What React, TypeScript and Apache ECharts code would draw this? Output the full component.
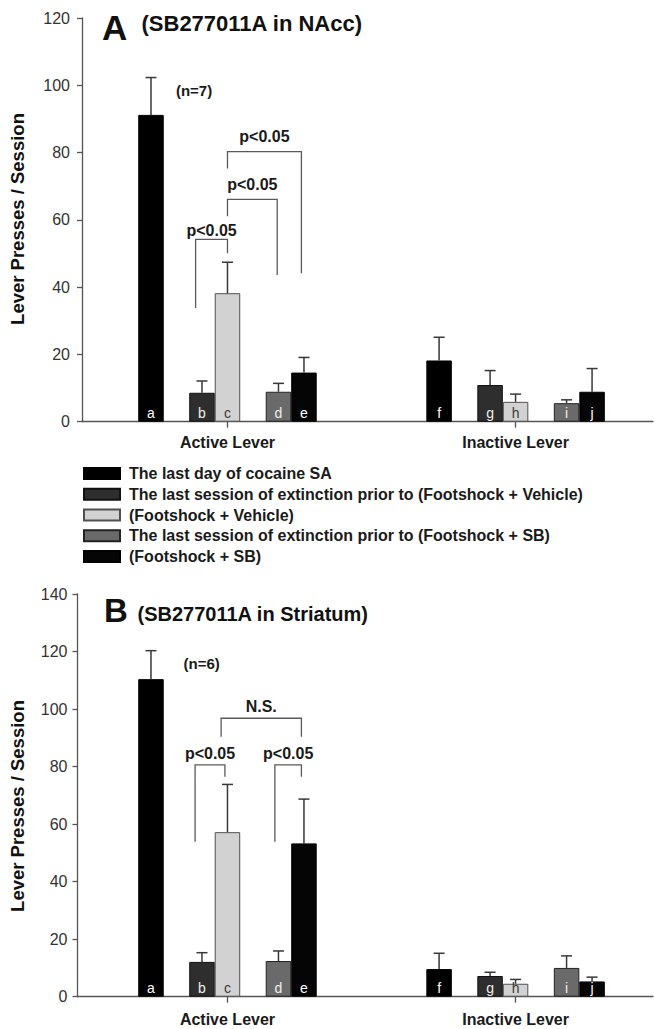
import React, { useEffect, useRef } from "react";
import * as echarts from "echarts";

const FONT = '"Liberation Sans", Arial, Helvetica, sans-serif';

// ---------- data ----------
const GROUPS = ["Active Lever", "Inactive Lever"];
const SERIES_NAMES = [
  "The last day of cocaine SA",
  "The last session of extinction prior to (Footshock + Vehicle)",
  "(Footshock + Vehicle)",
  "The last session of extinction prior to (Footshock + SB)",
  "(Footshock + SB)",
];
// letters printed inside bars: [active, inactive] per series
const BAR_LETTERS = [
  ["a", "f"],
  ["b", "g"],
  ["c", "h"],
  ["d", "i"],
  ["e", "j"],
];

// Panel A (SB277011A in NAcc): mean and SEM, [active, inactive] per series
const A_MEAN = [
  [91.2, 18.2],
  [8.6, 10.9],
  [38.2, 5.9],
  [8.9, 5.5],
  [14.6, 8.9],
];
const A_SEM = [
  [11.1, 6.9],
  [3.5, 4.3],
  [9.2, 2.3],
  [2.5, 1.0],
  [4.5, 6.9],
];

// Panel B (SB277011A in Striatum)
const B_MEAN = [
  [110.4, 9.6],
  [12.1, 7.2],
  [57.2, 4.5],
  [12.4, 10.0],
  [53.3, 5.3],
];
const B_SEM = [
  [9.9, 5.5],
  [3.2, 1.3],
  [16.6, 1.5],
  [3.5, 4.2],
  [15.4, 1.5],
];

// significance brackets (x in bar slots, y in data units)
const A_BRACKETS = [
  { x1: 1.75, x2: 3.0, y1: 33.8, y2: 50.1, top: 54.2, labelY: 56.9, text: "p<0.05" },
  { x1: 3.0, x2: 4.95, y1: 61.1, y2: 43.6, top: 66.1, labelY: 70.4, text: "p<0.05" },
  { x1: 3.0, x2: 5.9, y1: 75.3, y2: 44.1, top: 80.3, labelY: 84.7, text: "p<0.05" },
];
const B_BRACKETS = [
  { x1: 1.73, x2: 2.9, y1: 53.9, y2: 76.5, top: 80.6, labelY: 84.6, text: "p<0.05" },
  { x1: 4.86, x2: 5.9, y1: 53.9, y2: 76.5, top: 80.6, labelY: 84.6, text: "p<0.05" },
  { x1: 2.75, x2: 5.9, y1: 90.4, y2: 90.4, top: 96.8, labelY: 100.8, text: "N.S." },
];
const A_NOTES = [{ x: 1.69, y: 98.4, text: "(n=7)" }];
const B_NOTES = [{ x: 1.99, y: 115.9, text: "(n=6)" }];

const A_Y_MAX = 120;
const B_Y_MAX = 140;
const Y_STEP = 20;

// ---------- layout / style ----------
const GROUP_START = [0, 11.3];
const BAR_SLOT = [0, 2, 3, 5, 6];
const CENTER_SLOT = 3;
const X_MAX = 19.69;
const A_X_MIN = -2.706;
const B_X_MIN = -2.882;

const BAR_COLORS = ["#000000", "#2e2e2e", "#d2d2d2", "#6a6a6a", "#050505"];
const BAR_BORDERS = ["#000000", "#111111", "#505050", "#222222", "#000000"];
const LETTER_COLORS = ["#ffffff", "#eeeeee", "#3a3a3a", "#eeeeee", "#ffffff"];
const AXIS_COLOR = "#555555";
const TEXT_DARK = "#1a1a1a";

const centers = GROUP_START.map((g) => g + CENTER_SLOT);

function buildPanel(p: number, mean: number[][], sem: number[][], brackets: any[], notes: any[]) {
  const series: any[] = [];
  SERIES_NAMES.forEach((name, s) => {
    series.push({
      type: "bar",
      name,
      xAxisIndex: p,
      yAxisIndex: p,
      barWidth: 25.5,
      barGap: "-100%",
      itemStyle: { color: BAR_COLORS[s], borderColor: BAR_BORDERS[s], borderWidth: 1 },
      label: {
        show: true,
        position: "insideBottom",
        distance: 2,
        color: LETTER_COLORS[s],
        fontSize: 14,
        fontFamily: FONT,
        formatter: (prm: any) => BAR_LETTERS[s][prm.dataIndex],
      },
      data: GROUPS.map((_, g) => [GROUP_START[g] + BAR_SLOT[s], mean[s][g]]),
      z: 2,
    });
  });
  const errData: number[][] = [];
  SERIES_NAMES.forEach((_, s) => {
    GROUPS.forEach((__, g) => {
      errData.push([GROUP_START[g] + BAR_SLOT[s], mean[s][g], sem[s][g]]);
    });
  });
  series.push({
    type: "custom",
    xAxisIndex: p,
    yAxisIndex: p,
    silent: true,
    z: 3,
    encode: { x: 0, y: 1 },
    data: errData,
    renderItem: (params: any, api: any) => {
      const x = api.value(0);
      const m = api.value(1);
      const e = api.value(2);
      const b = api.coord([x, m]);
      const t = api.coord([x, m + e]);
      const st = { stroke: "#383838", lineWidth: 1.5 };
      return {
        type: "group",
        children: [
          { type: "line", shape: { x1: b[0], y1: b[1], x2: t[0], y2: t[1] }, style: st },
          { type: "line", shape: { x1: t[0] - 5.5, y1: t[1], x2: t[0] + 5.5, y2: t[1] }, style: st },
        ],
      };
    },
  });
  series.push({
    type: "custom",
    xAxisIndex: p,
    yAxisIndex: p,
    silent: true,
    z: 4,
    encode: { x: 0, y: 1 },
    data: brackets.map((b) => [b.x1, b.top]),
    renderItem: (params: any, api: any) => {
      const b = brackets[params.dataIndex];
      const p1 = api.coord([b.x1, b.y1]);
      const p2 = api.coord([b.x1, b.top]);
      const p3 = api.coord([b.x2, b.top]);
      const p4 = api.coord([b.x2, b.y2]);
      const ly = api.coord([b.x1, b.labelY])[1];
      return {
        type: "group",
        children: [
          {
            type: "polyline",
            shape: { points: [p1, p2, p3, p4] },
            style: { stroke: "#5a5a5a", lineWidth: 1.3, fill: null },
          },
          {
            type: "text",
            x: (p2[0] + p3[0]) / 2,
            y: ly,
            style: {
              text: b.text,
              fontSize: 16,
              fontWeight: "bold",
              fontFamily: FONT,
              fill: TEXT_DARK,
              align: "center",
              verticalAlign: "middle",
              textAlign: "center",
              textVerticalAlign: "middle",
            },
          },
        ],
      };
    },
  });
  series.push({
    type: "custom",
    xAxisIndex: p,
    yAxisIndex: p,
    silent: true,
    z: 4,
    encode: { x: 0, y: 1 },
    data: notes.map((n) => [n.x, n.y]),
    renderItem: (params: any, api: any) => {
      const n = notes[params.dataIndex];
      const c = api.coord([n.x, n.y]);
      return {
        type: "text",
        x: c[0],
        y: c[1],
        style: {
          text: n.text,
          fontSize: 15,
          fontWeight: "bold",
          fontFamily: FONT,
          fill: TEXT_DARK,
          align: "center",
          verticalAlign: "middle",
          textAlign: "center",
          textVerticalAlign: "middle",
        },
      };
    },
  });
  return series;
}

function xAxisFor(p: number, min: number, labelMargin: number) {
  return {
    type: "value",
    gridIndex: p,
    min,
    max: X_MAX,
    axisLine: { show: true, onZero: false, lineStyle: { color: AXIS_COLOR, width: 1.3 } },
    splitLine: { show: false },
    axisTick: {
      show: true,
      customValues: centers,
      length: 6,
      lineStyle: { color: AXIS_COLOR, width: 1.3 },
    },
    axisLabel: {
      show: true,
      customValues: centers,
      margin: labelMargin,
      fontSize: 16,
      fontWeight: "bold",
      fontFamily: FONT,
      color: TEXT_DARK,
      formatter: (v: number) => {
        const i = centers.findIndex((c) => Math.abs(c - v) < 0.01);
        return i >= 0 ? GROUPS[i] : "";
      },
    },
  };
}

function yAxisFor(p: number, max: number, labelMargin: number) {
  return {
    type: "value",
    gridIndex: p,
    min: 0,
    max,
    interval: Y_STEP,
    axisLine: { show: true, onZero: false, lineStyle: { color: AXIS_COLOR, width: 1.3 } },
    axisTick: { show: true, length: 5, lineStyle: { color: AXIS_COLOR, width: 1.3 } },
    splitLine: { show: false },
    axisLabel: { fontSize: 16, color: "#333333", fontFamily: FONT, margin: labelMargin },
  };
}

function textEl(text: string, x: number, y: number, size: number, rotation = 0, align = "left") {
  return {
    type: "text",
    x,
    y,
    rotation,
    style: {
      text,
      fontSize: size,
      fontWeight: "bold",
      fontFamily: FONT,
      fill: "#111111",
      align,
      verticalAlign: "middle",
      textAlign: align,
      textVerticalAlign: "middle",
    },
  };
}

export default function App() {
  const ref = useRef<HTMLDivElement>(null);
  useEffect(() => {
    if (!ref.current) return;
    const chart = echarts.init(ref.current, null, { renderer: "svg" });
    const option: any = {
      animation: false,
      backgroundColor: "#ffffff",
      textStyle: { fontFamily: FONT },
      grid: [
        { left: 82, right: 1, top: 18, bottom: 1029 - 421.7 },
        { left: 77.5, right: 1, top: 594, bottom: 1029 - 996.7 },
      ],
      xAxis: [xAxisFor(0, A_X_MIN, 13), xAxisFor(1, B_X_MIN, 15)],
      yAxis: [yAxisFor(0, A_Y_MAX, 12), yAxisFor(1, B_Y_MAX, 10)],
      legend: {
        orient: "vertical",
        left: 83,
        top: 465.5,
        padding: 0,
        itemWidth: 36,
        itemHeight: 11,
        itemGap: 4.75,
        icon: "rect",
        selectedMode: false,
        data: SERIES_NAMES,
        textStyle: {
          fontSize: 16,
          fontWeight: "bold",
          fontFamily: FONT,
          color: TEXT_DARK,
          lineHeight: 16,
          padding: [0, 0, 0, 4],
        },
      },
      graphic: [
        textEl("A", 102, 27, 35),
        textEl("(SB277011A in NAcc)", 141.5, 23.5, 22),
        textEl("B", 104, 610, 33),
        textEl("(SB277011A in Striatum)", 137.5, 614, 20),
        textEl("Lever Presses / Session", 17, 219, 18.5, Math.PI / 2, "center"),
        textEl("Lever Presses / Session", 17, 806, 18.5, Math.PI / 2, "center"),
      ],
      series: [
        ...buildPanel(0, A_MEAN, A_SEM, A_BRACKETS, A_NOTES),
        ...buildPanel(1, B_MEAN, B_SEM, B_BRACKETS, B_NOTES),
      ],
    };
    chart.setOption(option);
    return () => chart.dispose();
  }, []);
  return (
    <div
      ref={ref}
      style={{ position: "absolute", left: 0, top: 0, width: 654, height: 1029, background: "#fff" }}
    />
  );
}
